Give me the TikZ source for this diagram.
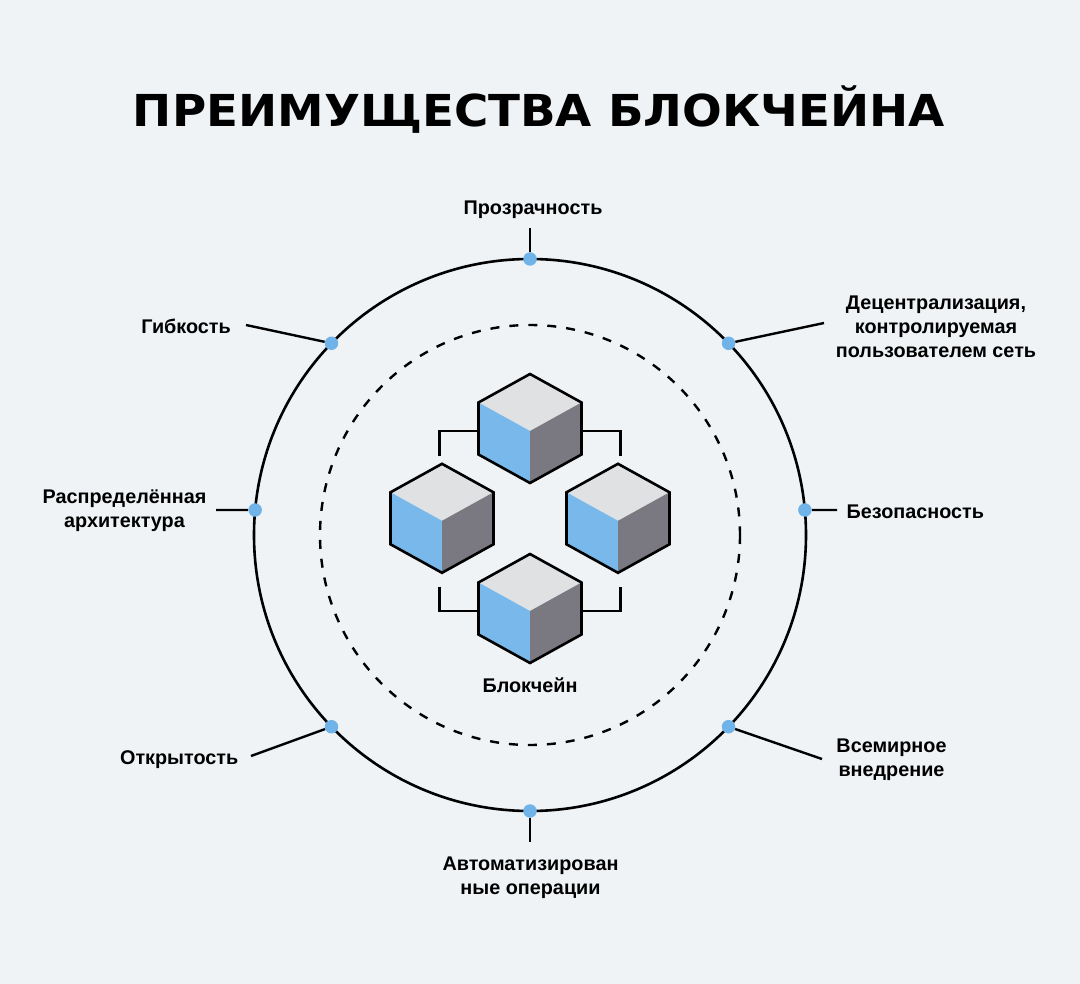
\documentclass[tikz,border=0pt]{standalone}
\usepackage{fontspec}
\setmainfont{Liberation Sans}
\newfontfamily\titlefont{DejaVu Sans}
\usetikzlibrary{calc}
\definecolor{bgc}{HTML}{EFF3F6}
\definecolor{bluec}{HTML}{78B8EA}
\definecolor{darkc}{HTML}{7A7880}
\definecolor{topc}{HTML}{E0E1E3}
\definecolor{dotc}{HTML}{70B3E8}
\newcommand\drawcube[1]{%
  \begin{scope}[shift={(#1)}]
    \fill[topc] (0,-54.5) -- (51.5,-26) -- (0,2.5) -- (-51.5,-26) -- cycle;
    \fill[bluec] (-51.5,-26) -- (0,2.5) -- (0,54.5) -- (-51.5,26) -- cycle;
    \fill[darkc] (51.5,-26) -- (0,2.5) -- (0,54.5) -- (51.5,26) -- cycle;
    \draw[outline] (0,-54.5) -- (51.5,-26) -- (51.5,26) -- (0,54.5) -- (-51.5,26) -- (-51.5,-26) -- cycle;
  \end{scope}}
\begin{document}
\begin{tikzpicture}[x=1pt,y=-1pt,
  outline/.style={draw=black,line width=2.6pt,line join=miter},
  conn/.style={draw=black,line width=2.4pt},
  ring/.style={draw=black,line width=2.6pt},
  dashring/.style={draw=black,line width=2.4pt,dash pattern=on 9pt off 10pt},
  dot/.style={circle,fill=dotc,minimum size=13.5pt,inner sep=0pt},
  lbl/.style={font=\fontsize{19.8}{24}\selectfont\bfseries,inner sep=0pt,align=center},
  ]
\fill[bgc] (0,0) rectangle (1080,984);
\useasboundingbox (0,0) rectangle (1080,984);

% title
\node[anchor=base,inner sep=0pt] (title) at (539,127)
  {\resizebox{812pt}{\height}{\titlefont\bfseries\fontsize{44}{44}\selectfont ПРЕИМУЩЕСТВА БЛОКЧЕЙНА}};

% rings
\coordinate (O) at (530,535);
\draw[ring] (O) circle (276);
\draw[dashring] (O) circle (210);

% cube positions
\coordinate (ct) at (530,428.5);
\coordinate (cl) at (442,518.3);
\coordinate (cr) at (618,518.3);
\coordinate (cb) at (530,608.5);

% brackets
\draw[conn] ($(cl)+(-2.4,-62)$) |- ($(ct)+(-51.5,2.5)$);
\draw[conn] ($(ct)+(51.5,2.5)$) -| ($(cr)+(2.4,-62)$);
\draw[conn] ($(cl)+(-2.4,68.4)$) |- ($(cb)+(-51.5,2.2)$);
\draw[conn] ($(cb)+(51.5,2.2)$) -| ($(cr)+(2.4,68.4)$);

\drawcube{ct}
\drawcube{cl}
\drawcube{cr}
\drawcube{cb}

\node[lbl] (chain) at (530,685.3) {Блокчейн};

% dots
\node[dot] (dT)  at ($(O)+(-90:276)$) {};
\node[dot] (dUR) at ($(O)+(-44:276)$) {};
\node[dot] (dR)  at ($(O)+(-5.2:276)$) {};
\node[dot] (dLR) at ($(O)+(44:276)$) {};
\node[dot] (dB)  at ($(O)+(90:276)$) {};
\node[dot] (dLL) at ($(O)+(136:276)$) {};
\node[dot] (dL)  at ($(O)+(185.2:276)$) {};
\node[dot] (dUL) at ($(O)+(224:276)$) {};

% line ends
\coordinate (eT)  at (530,228);
\coordinate (eUR) at (824,323);
\coordinate (eR)  at (837,510);
\coordinate (eLR) at (822,759);
\coordinate (eB)  at (530,842);
\coordinate (eLL) at (251,756);
\coordinate (eL)  at (216,510);
\coordinate (eUL) at (246,325);

\draw[conn] (dT) -- (eT);
\draw[conn] (dUR) -- (eUR);
\draw[conn] (dR) -- (eR);
\draw[conn] (dLR) -- (eLR);
\draw[conn] (dB) -- (eB);
\draw[conn] (dLL) -- (eLL);
\draw[conn] (dL) -- (eL);
\draw[conn] (dUL) -- (eUL);

% labels
\node[lbl] (lT) at (533,210) {Прозрачность};
\node[lbl] (lUR) at (936,327) {Децентрализация,\\контролируемая\\пользователем сеть};
\node[lbl,anchor=west] (lR) at (846.5,512) {Безопасность};
\node[lbl] (lLR) at (891.5,760) {Всемирное\\внедрение};
\node[lbl] (lB) at (530.5,877.3) {Автоматизирован\\ные операции};
\node[lbl,anchor=east] (lLL) at (238.5,760) {Открытость};
\node[lbl] (lL) at (124.5,510.5) {Распределённая\\архитектура};
\node[lbl,anchor=east] (lUL) at (231,326) {Гибкость};
\end{tikzpicture}
\end{document}
